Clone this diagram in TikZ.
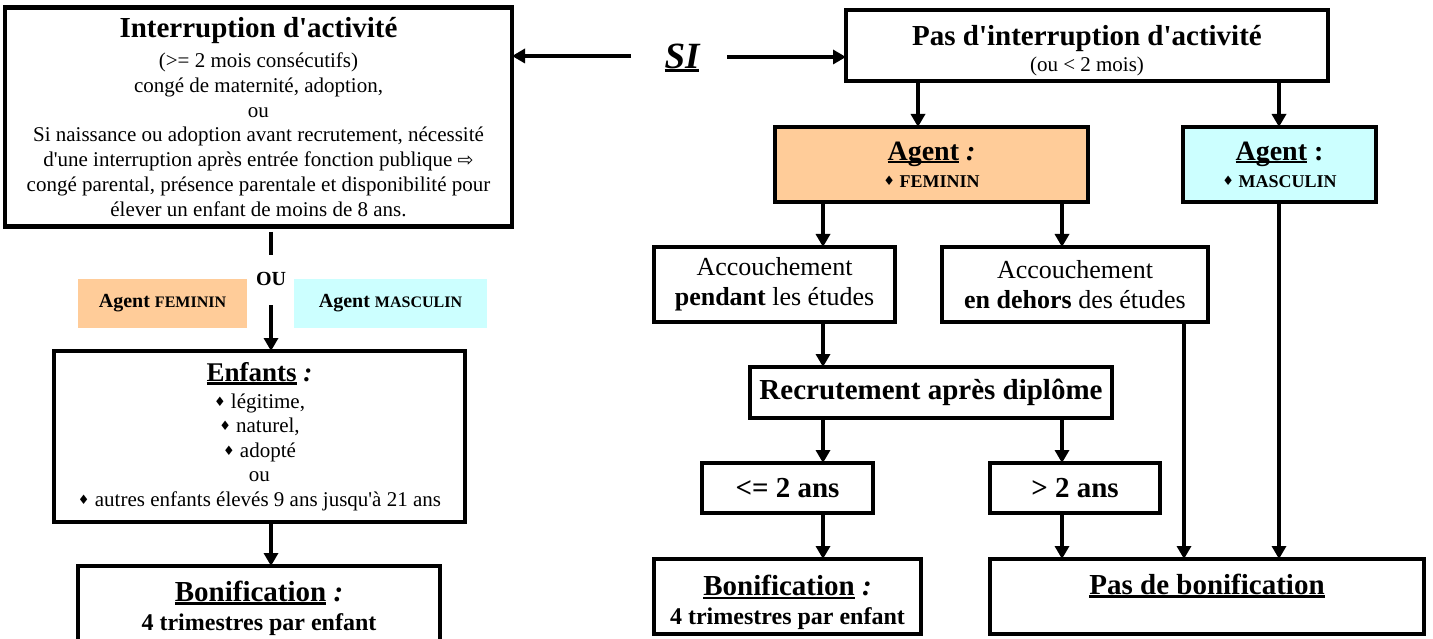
\documentclass[tikz,border=0pt]{standalone}
\usepackage{fontspec}
\setmainfont{Liberation Serif}[Ligatures=TeXOff]
\newfontfamily\dejavu{DejaVu Sans}
\usetikzlibrary{arrows.meta}
\definecolor{peach}{HTML}{FFCC99}
\definecolor{cyanl}{HTML}{CCFFFF}
\newcommand\fs[1]{\fontsize{#1}{#1}\selectfont}
\newcommand\uline[1]{\setbox0\hbox{#1}\rlap{\rule[-3.2pt]{\wd0}{2.4pt}}\box0\relax}
\newcommand\dia{{\dejavu\fontsize{13}{13}\selectfont\raisebox{2pt}{♦}}}
\begin{document}
\begin{tikzpicture}[x=1pt,y=-1pt,
  box/.style={draw=black,line width=4.5pt,fill=white,inner sep=0pt,outer sep=0pt,align=center},
  arr/.style={line width=4pt,-{Triangle[length=13pt,width=14pt]}},
  ln/.style={line width=4pt},
  plain/.style={inner sep=0pt,outer sep=0pt,align=center}]
\useasboundingbox (0,0) rectangle (1433,639);
\clip (0,0) rectangle (1433,639);

% helper x positions
\coordinate (x271) at (271,0);
\coordinate (x918) at (918,0);
\coordinate (x1279) at (1279,0);
\coordinate (x823) at (823,0);
\coordinate (x1062) at (1062,0);
\coordinate (x1184) at (1184,0);

% left column
\node[box,minimum width=507pt,minimum height=219pt,font=\fontsize{21}{24.8}\selectfont] (A) at (258.5,117)
 {{\fs{29}\bfseries Interruption d'activité}\\[5pt]
  (>= 2 mois consécutifs)\\
  congé de maternité, adoption,\\
  ou\\
  Si naissance ou adoption avant recrutement, nécessité\\
  d'une interruption après entrée fonction publique {\dejavu\fontsize{19}{19}\selectfont ⇨}\\
  congé parental, présence parentale et disponibilité pour\\
  élever un enfant de moins de 8 ans.};

\node[plain] (SI) at (682,58) {\fs{37}\bfseries\itshape \uline{SI}};
\coordinate (sil) at (631,56);
\coordinate (sir) at (727,57);

\coordinate (d1) at (271,232);
\coordinate (d2) at (271,255);
\node[plain] (OU) at (271,279) {\fs{20}\bfseries OU};
\coordinate (d3) at (271,305);

\node[plain,fill=peach,minimum width=169pt,minimum height=49pt] (FF) at (162.5,303.5)
 {\bfseries\fs{20}Agent {\fs{16}FEMININ}};
\node[plain,fill=cyanl,minimum width=193pt,minimum height=49pt] (FM) at (390.5,303.5)
 {\bfseries\fs{20}Agent {\fs{16}MASCULIN}};

\node[box,minimum width=411pt,minimum height=171pt,font=\fontsize{21}{24.5}\selectfont] (E) at (259.5,436.5)
 {{\fs{27}\bfseries\uline{Enfants} \textit{:}}\\[2pt]
  \dia\ légitime,\\
  \dia\ naturel,\\
  \dia\ adopté\\
  ou\\
  \dia\ autres enfants élevés 9 ans jusqu'à 21 ans};

\node[box,minimum width=362pt,minimum height=90pt,anchor=north] (BL) at (259,566) {};
\node[plain,anchor=north] (BLt) at (259,581)
 {{\fs{29}\bfseries\uline{Bonification} \textit{:}}\\[8pt]
  {\fs{24}\bfseries 4 trimestres par enfant}};

% right column
\node[box,minimum width=482pt,minimum height=71pt] (B) at (1087,45.5)
 {\rule{0pt}{30pt}{\fs{29}\bfseries Pas d'interruption d'activité}\\[4pt]
  {\fs{21}(ou < 2 mois)}};

\node[box,fill=peach,minimum width=313pt,minimum height=75pt] (AF) at (931.5,164.5)
 {{\fs{28}\bfseries\uline{Agent} \textit{:}}\\[8pt]
  {\fs{18}\bfseries\dia\ FEMININ}};
\node[box,fill=cyanl,minimum width=193pt,minimum height=75pt] (AM) at (1279.5,164.5)
 {{\fs{28}\bfseries\uline{Agent} :}\\[8pt]
  {\fs{18}\bfseries\dia\ MASCULIN}};

\node[box,minimum width=241pt,minimum height=75pt,font=\fontsize{26}{30}\selectfont] (AP) at (774.5,284.5)
 {Accouchement\\ \textbf{pendant} les études};
\node[box,minimum width=266pt,minimum height=75pt,font=\fontsize{26}{30}\selectfont] (AD) at (1075,284.5)
 {Accouchement\\ \textbf{en dehors} des études};

\node[box,minimum width=362pt,minimum height=51pt] (R) at (931,392.5)
 {\fs{29}\bfseries Recrutement après diplôme};

\node[box,minimum width=171pt,minimum height=50pt] (L2) at (787.5,488)
 {\fs{29}\bfseries <= 2 ans};
\node[box,minimum width=170pt,minimum height=50pt] (G2) at (1075,488)
 {\fs{29}\bfseries > 2 ans};

\node[box,minimum width=267pt,minimum height=75pt] (BR) at (787.5,596.5)
 {\rule{0pt}{33pt}{\fs{29}\bfseries\uline{Bonification} \textit{:}}\\[8pt]
  {\fs{24}\bfseries 4 trimestres par enfant}};
\node[box,minimum width=434pt,minimum height=75pt] (PB) at (1207,596.5)
 {\raisebox{2pt}[0pt][0pt]{\fs{29}\bfseries\uline{Pas de bonification}}};

% connectors
\draw[arr] (sil) -- (A.east |- sil);
\draw[arr] (sir) -- (B.west |- sir);
\draw[ln] (d1) -- (d2);
\draw[arr] (d3) -- (E.north -| x271);
\draw[arr] (E.south -| x271) -- (BL.north -| x271);

\draw[arr] (B.south -| x918) -- (AF.north -| x918);
\draw[arr] (B.south -| x1279) -- (AM.north -| x1279);
\draw[arr] (AF.south -| x823) -- (AP.north -| x823);
\draw[arr] (AF.south -| x1062) -- (AD.north -| x1062);
\draw[arr] (AP.south -| x823) -- (R.north -| x823);
\draw[arr] (R.south -| x823) -- (L2.north -| x823);
\draw[arr] (R.south -| x1062) -- (G2.north -| x1062);
\draw[arr] (L2.south -| x823) -- (BR.north -| x823);
\draw[arr] (G2.south -| x1062) -- (PB.north -| x1062);
\draw[arr] (AD.south -| x1184) -- (PB.north -| x1184);
\draw[arr] (AM.south -| x1279) -- (PB.north -| x1279);
\end{tikzpicture}
\end{document}
